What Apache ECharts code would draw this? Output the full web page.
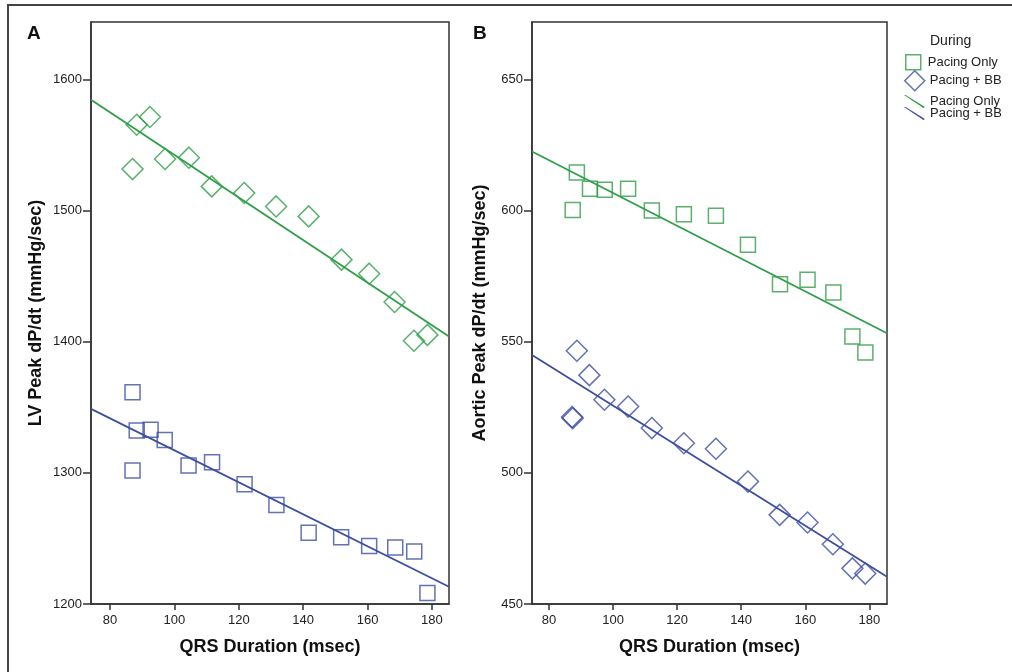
<!DOCTYPE html>
<html><head><meta charset="utf-8">
<script src="https://cdn.jsdelivr.net/npm/echarts@6/dist/echarts.min.js"></script>
<style>html,body{margin:0;padding:0;background:#fff}#c{width:1012px;height:672px}</style>
</head><body><div id="c"></div>
<script>
// ---- data ----
const xTicks = [80, 100, 120, 140, 160, 180];
const yTicksA = [1200, 1300, 1400, 1500, 1600];
const yTicksB = [450, 500, 550, 600, 650];

// Panel A (LV Peak dP/dt)
const aOnlyX = [87.0, 88.3, 92.4, 97.1, 104.5, 111.6, 121.7, 131.6, 141.7, 151.9, 160.5, 168.4, 174.4, 178.6];
const aOnlyY = [1531.8, 1565.6, 1571.5, 1539.5, 1540.5, 1518.6, 1513.5, 1503.3, 1495.7, 1462.7, 1452, 1430.4, 1400.8, 1405.3];
const aBBX = [87.0, 88.3, 92.6, 97.0, 87.0, 104.4, 111.7, 121.8, 131.7, 141.7, 151.8, 160.5, 168.6, 174.5, 178.6];
const aBBY = [1361.6, 1332.3, 1332.9, 1325.2, 1301.8, 1305.6, 1308.2, 1291.4, 1275.6, 1254.3, 1251, 1244.3, 1243.1, 1240, 1208.3];
const aFitOnlyX = [74.1, 185.3], aFitOnlyY = [1584.7, 1404.0];
const aFitBBX = [74.1, 185.3], aFitBBY = [1348.9, 1213.2];

// Panel B (Aortic Peak dP/dt)
const bOnlyX = [88.7, 87.4, 92.8, 97.4, 104.7, 112.1, 122.1, 132.1, 142.1, 152.1, 160.7, 168.75, 174.7, 178.75];
const bOnlyY = [614.6, 600.3, 608.4, 608.0, 608.4, 600.1, 598.7, 598.1, 587.0, 572.0, 573.7, 568.8, 552.0, 545.9];
const bBBX = [88.7, 92.6, 97.3, 87.4, 87.2, 104.7, 112.1, 122.1, 132.1, 142.1, 152.0, 160.7, 168.6, 174.7, 178.7];
const bBBY = [546.6, 537.3, 527.9, 520.9, 521.3, 525.3, 517.1, 511.3, 509.2, 496.7, 484.0, 481.1, 472.8, 463.6, 461.6];
const bFitOnlyX = [74.7, 185.5], bFitOnlyY = [622.6, 553.3];
const bFitBBX = [74.7, 185.5], bFitBBY = [545.0, 460.4];

// ---- styling ----
const GREEN = '#2f9e48', BLUE = '#3c4fa0';
const FONT = 'Liberation Sans, Arial, Helvetica, sans-serif';
const zip = (xs, ys) => xs.map((x, i) => [x, ys[i]]);
const plain = v => String(v);

function xAxis(gi, min, max) {
  return {
    type: 'value', gridIndex: gi, min: min, max: max,
    name: 'QRS Duration (msec)', nameLocation: 'middle', nameGap: 34,
    nameTextStyle: { fontFamily: FONT, fontSize: 18, fontWeight: 'bold', color: '#111' },
    axisLine: { show: true, onZero: false, lineStyle: { color: '#333', width: 1.5 } },
    axisTick: { show: true, length: 6, customValues: xTicks, lineStyle: { color: '#333', width: 1.5 } },
    axisLabel: { customValues: xTicks, formatter: plain, fontFamily: FONT, fontSize: 13, color: '#222', margin: 10 },
    splitLine: { show: false }
  };
}
function yAxis(gi, min, max, ticks, name, gap) {
  return {
    type: 'value', gridIndex: gi, min: min, max: max,
    name: name, nameLocation: 'middle', nameGap: gap,
    nameTextStyle: { fontFamily: FONT, fontSize: 18, fontWeight: 'bold', color: '#111' },
    axisLine: { show: true, onZero: false, lineStyle: { color: '#333', width: 1.5 } },
    axisTick: { show: true, length: 8, customValues: ticks, lineStyle: { color: '#333', width: 1.5 } },
    axisLabel: { customValues: ticks, formatter: plain, fontFamily: FONT, fontSize: 13, color: '#222', margin: 9 },
    splitLine: { show: false }
  };
}
function scatter(name, xi, data, symbol, size, color) {
  return {
    type: 'scatter', name: name, xAxisIndex: xi, yAxisIndex: xi, data: data,
    symbol: symbol, symbolSize: size, z: 3,
    itemStyle: { color: 'rgba(0,0,0,0)', borderColor: color, borderWidth: 1.5 }
  };
}
function fit(name, xi, data, color) {
  return {
    type: 'line', name: name, xAxisIndex: xi, yAxisIndex: xi, data: data,
    symbol: 'none', z: 2, animation: false,
    lineStyle: { color: color, width: 1.8 }, itemStyle: { color: color }
  };
}
function legendItem(name, icon, w, h, left, top, style) {
  return {
    orient: 'vertical', left: left, top: top, itemWidth: w, itemHeight: h, itemGap: 0,
    padding: 0, symbolKeepAspect: true,
    textStyle: { fontFamily: FONT, fontSize: 13, color: '#222' },
    data: [{ name: name, icon: icon, itemStyle: style }]
  };
}
const SQUARE = 'path://M0,0 L15,0 L15,15 L0,15 Z';
const DIAMOND = 'path://M10,0 L20,10 L10,20 L0,10 Z';
const SLASH = 'path://M0,0 L1.6,0 L21,12 L19.4,13 Z';

const chart = echarts.init(document.getElementById('c'), null, { renderer: 'canvas' });
chart.setOption({
  animation: false,
  backgroundColor: '#fff',
  title: [
    { text: 'A', left: 22, top: 19, textStyle: { fontFamily: FONT, fontSize: 19, fontWeight: 'bold', color: '#111' } },
    { text: 'B', left: 468, top: 19, textStyle: { fontFamily: FONT, fontSize: 19, fontWeight: 'bold', color: '#111' } },
    { text: 'During', left: 925, top: 29, textStyle: { fontFamily: FONT, fontSize: 14, fontWeight: 'normal', color: '#222' } }
  ],
  legend: [
    legendItem('Pacing Only', SQUARE, 19, 15, 905, 54, { color: 'rgba(0,0,0,0)', borderColor: GREEN, borderWidth: 1.5 }),
    legendItem('Pacing + BB', DIAMOND, 20, 20, 904, 70, { color: 'rgba(0,0,0,0)', borderColor: BLUE, borderWidth: 1.5 }),
    legendItem('Pacing Only ', SLASH, 21, 13, 904, 95, { color: GREEN }),
    legendItem('Pacing + BB ', SLASH, 21, 13, 904, 107, { color: BLUE })
  ],
  graphic: [
    { type: 'rect', shape: { x: 8, y: 5, width: 1100, height: 800 }, style: { fill: 'none', stroke: '#444', lineWidth: 2 }, silent: true, z: -1 }
  ],
  grid: [
    { left: 91, top: 22, width: 358, height: 582, show: true, borderColor: '#333', borderWidth: 1.5, backgroundColor: 'rgba(0,0,0,0)' },
    { left: 532, top: 22, width: 355, height: 582, show: true, borderColor: '#333', borderWidth: 1.5, backgroundColor: 'rgba(0,0,0,0)' }
  ],
  xAxis: [xAxis(0, 74.1, 185.3), xAxis(1, 74.7, 185.5)],
  yAxis: [
    yAxis(0, 1200, 1644, yTicksA, 'LV Peak dP/dt (mmHg/sec)', 46),
    yAxis(1, 450, 672, yTicksB, 'Aortic Peak dP/dt (mmHg/sec)', 43)
  ],
  series: [
    scatter('Pacing Only', 1, zip(bOnlyX, bOnlyY), 'rect', 15, GREEN),
    scatter('Pacing + BB', 1, zip(bBBX, bBBY), 'diamond', 21, BLUE),
    fit('Pacing Only ', 1, zip(bFitOnlyX, bFitOnlyY), GREEN),
    fit('Pacing + BB ', 1, zip(bFitBBX, bFitBBY), BLUE),
    scatter('Pacing Only', 0, zip(aOnlyX, aOnlyY), 'diamond', 21, GREEN),
    scatter('Pacing + BB', 0, zip(aBBX, aBBY), 'rect', 15, BLUE),
    fit('Pacing Only ', 0, zip(aFitOnlyX, aFitOnlyY), GREEN),
    fit('Pacing + BB ', 0, zip(aFitBBX, aFitBBY), BLUE)
  ]
});
</script></body></html>
